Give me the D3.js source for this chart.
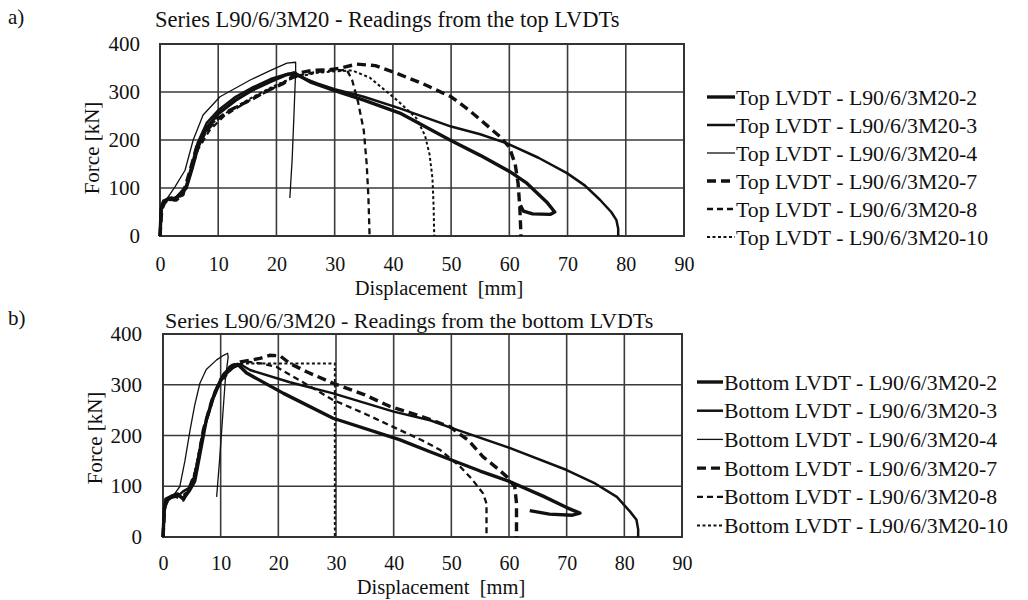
<!DOCTYPE html>
<html><head><meta charset="utf-8">
<script src="https://cdn.jsdelivr.net/npm/d3@7"></script>
<style>
body{margin:0;background:#fff;}
text{font-family:"Liberation Serif","Times New Roman",serif;fill:#111;}
</style></head>
<body><svg id="c" width="1028" height="600"></svg>
<script>
// ---------- data ----------
const xTicks = [0,10,20,30,40,50,60,70,80,90];
const yTicks = [0,100,200,300,400];
const seriesIds = ["2","3","4","7","8","10"];

// Top LVDTs  [displacement mm, force kN]
const top2 = [[0,0],[0.2,55],[0.6,70],[1.5,78],[2.5,75],[3.5,88],[4.5,100],[5.5,140],[6.5,185],[8,225],[10,255],[13,283],[16,305],[19,322],[21.5,335],[23,340],[26,320],[30,303],[35,283],[41.2,256],[49.8,200],[55,168],[60.1,134],[63,110],[66.4,71],[67.8,50],[67,45],[64,46],[62.4,52],[61.9,64]];
const top3 = [[0,0],[0.2,60],[0.7,72],[1.5,80],[2.5,78],[3.5,90],[4.5,105],[5.5,150],[6.5,195],[8,235],[10,262],[13,290],[16,310],[19,327],[22,338],[24,332],[27,318],[30,306],[35,290],[41.2,266],[50,228],[55,212],[59.6,193],[65,163],[69.9,131],[73,105],[75.6,75],[77.5,50],[78.4,33],[78.7,15],[78.7,0]];
const top4 = [[0,0],[0.2,65],[0.5,75],[1.2,78],[2.6,103],[4.3,137],[5.7,200],[7.4,252],[10.3,290],[15.5,325],[19,345],[21.8,360],[23.3,362],[23.3,345],[23,250],[22.7,160],[22.3,79]];
const top7 = [[0,0],[0.3,55],[0.8,70],[1.8,80],[2.8,75],[4,89],[5,130],[6.3,186],[8,220],[9.7,242],[12,262],[15.5,283],[18,300],[21.2,318],[23.5,339],[26,345],[29,346],[31,350],[33.8,358],[37,355],[40,342],[45,318],[50,290],[53,263],[56,232],[58.4,207],[60,185],[61,150],[61.5,110],[61.8,60],[62,0]];
const top8 = [[0,0],[0.3,60],[1,72],[2,76],[3,80],[4,85],[5,120],[6.5,180],[8.5,220],[11,250],[15,280],[19,305],[22,325],[24,335],[27,342],[30,345],[32.1,346],[33,325],[34,280],[35,220],[35.5,150],[35.8,80],[36,0]];
const top10 = [[0,0],[0.3,60],[1,70],[2,78],[3.5,85],[4.5,100],[5.5,150],[7,200],[9,235],[12,262],[16,290],[20,315],[23,330],[27,340],[30,343],[33,345],[36,330],[38,310],[41,280],[44,246],[45.5,210],[46.3,170],[46.8,120],[47,60],[47.1,0]];

// Bottom LVDTs
const bot2 = [[0,0],[0.2,50],[0.5,75],[1.5,80],[2.5,85],[3.5,75],[4.5,90],[5.5,110],[6.5,170],[7.5,230],[9,285],[10.5,320],[12,338],[13,340],[14.5,323],[20.9,283],[29.5,234],[41,192],[46.3,168],[55,130],[60.2,109],[66,80],[70,58],[72.3,47],[71,43],[67,45],[63.6,52]];
const bot3 = [[0,0],[0.2,55],[0.6,70],[1.5,78],[2.5,80],[3.5,90],[5,100],[6,150],[7,210],[8.5,270],[10,310],[12,333],[13.5,340],[15.1,329],[22,305],[29.5,283],[40,247],[46.3,230],[50,215],[60.2,175],[70,132],[75,105],[78.7,79],[81,50],[82.1,34],[82.4,15],[82.4,0]];
const bot4 = [[0,0],[0.3,60],[1,75],[2,85],[2.9,99],[3.8,150],[4.7,211],[5.5,260],[6.4,303],[7.5,330],[9.3,349],[10.5,358],[11.2,362],[11.3,355],[10.8,309],[10.3,230],[9.8,150],[9.3,79]];
const bot7 = [[0,0],[0.3,60],[1,78],[2,82],[3.5,73],[4.5,95],[5.8,132],[7,211],[8.5,270],[10,310],[11.6,335],[13.4,345],[15,348],[16.8,352],[18.5,358],[20.3,357],[22,342],[25,325],[29.5,303],[35,280],[39.4,257],[45,237],[49.8,217],[53,190],[55.5,158],[58,135],[59.6,119],[61,99],[61.3,66],[61.3,30],[61.3,0]];
const bot8 = [[0,0],[0.3,58],[1,75],[2,80],[3.5,78],[4.5,92],[5.5,125],[6.8,200],[8.3,262],[10,305],[11.8,330],[13,340],[15,345],[17,342],[19.7,335],[25,300],[29.5,270],[35,243],[39.9,217],[45,190],[48,172],[51.5,139],[53.5,115],[55.5,86],[56.1,66],[56.1,30],[56.1,0]];
const bot10 = [[0,0],[0.3,62],[1,76],[2,80],[3.5,82],[4.8,98],[6,150],[7.2,215],[8.8,275],[10.3,312],[12,335],[13,342],[20,342],[29.8,342],[29.8,200],[29.8,0]];

const topSeries = [top2, top3, top4, top7, top8, top10];
const botSeries = [bot2, bot3, bot4, bot7, bot8, bot10];

// ---------- styles ----------
const styles = [
  {w:3.4, dash:null},
  {w:2.5, dash:null},
  {w:1.3, dash:null},
  {w:3.4, dash:"9,5"},
  {w:2.3, dash:"6,4"},
  {w:2.0, dash:"3,2.5"}
];

const svg = d3.select("#c");
svg.append("rect").attr("width",1028).attr("height",600).attr("fill","#fff");

function drawChart(o){
  const x = d3.scaleLinear().domain([0,90]).range([o.left, o.right]);
  const y = d3.scaleLinear().domain([0,400]).range([o.bottom, o.top]);
  const g = svg.append("g");

  // grid
  g.append("g").selectAll("line").data(xTicks).join("line")
    .attr("x1",d=>x(d)).attr("x2",d=>x(d)).attr("y1",o.top).attr("y2",o.bottom)
    .attr("stroke","#3a3a3a").attr("stroke-width",1.6);
  g.append("g").selectAll("line").data(yTicks).join("line")
    .attr("y1",d=>y(d)).attr("y2",d=>y(d)).attr("x1",o.left).attr("x2",o.right)
    .attr("stroke","#3a3a3a").attr("stroke-width",1.6);
  g.append("rect").attr("x",o.left).attr("y",o.top).attr("width",o.right-o.left).attr("height",o.bottom-o.top)
    .attr("fill","none").attr("stroke","#333").attr("stroke-width",2);

  // axes labels via d3 axes
  const ax = g.append("g").attr("transform",`translate(0,${o.bottom+o.xTickOff})`)
    .call(d3.axisBottom(x).tickValues(xTicks).tickSize(0).tickPadding(0));
  ax.select(".domain").remove();
  ax.selectAll("text").attr("font-size",20).attr("dy","0.3em").attr("font-family","Liberation Serif").attr("fill","#111");
  const ay = g.append("g").attr("transform",`translate(${o.left-o.yTickOff},0)`)
    .call(d3.axisLeft(y).tickValues(yTicks).tickSize(0).tickPadding(0));
  ay.select(".domain").remove();
  ay.selectAll("text").attr("font-size",21).attr("font-family","Liberation Serif").attr("fill","#111");

  // curves
  const line = d3.line().x(d=>x(d[0])).y(d=>y(d[1])).curve(d3.curveLinear);
  o.series.forEach((s,i)=>{
    g.append("path").attr("d",line(s)).attr("fill","none").attr("stroke","#111")
      .attr("stroke-width",styles[i].w).attr("stroke-dasharray",styles[i].dash)
      .attr("stroke-linejoin","round");
  });

  // titles
  g.append("text").attr("x",8).attr("y",o.letterY).attr("font-size",21).text(o.letter);
  g.append("text").attr("x",o.titleX).attr("y",o.titleY).attr("font-size",o.titleSize).text(o.title);
  g.append("text").attr("x",o.xLabelX).attr("y",o.xLabelY).attr("text-anchor","middle").attr("font-size",20.5)
    .attr("xml:space","preserve").text("Displacement  [mm]");
  g.append("text").attr("transform",`translate(${o.yLabelX},${o.yLabelY}) rotate(-90)`)
    .attr("text-anchor","middle").attr("dy","0.35em").attr("font-size",21).text("Force [kN]");

  // legend
  const lg = g.append("g");
  seriesIds.forEach((id,i)=>{
    const ly = o.legY0 + i*o.legDy;
    lg.append("line").attr("x1",o.legX).attr("x2",o.legX+o.legLen).attr("y1",ly).attr("y2",ly)
      .attr("stroke","#111").attr("stroke-width",styles[i].w).attr("stroke-dasharray",styles[i].dash);
    lg.append("text").attr("x",o.legX+o.legLen+1).attr("y",ly).attr("dy","0.35em").attr("font-size",21.8)
      .text(`${o.legPrefix} LVDT - L90/6/3M20-${id}`);
  });
}

drawChart({left:160,right:684,top:44,bottom:236,xTickOff:29,yTickOff:20,
  series:topSeries, letter:"a)", letterY:24, title:"Series L90/6/3M20 - Readings from the top LVDTs",
  titleX:155, titleY:27, titleSize:22.5, xLabelX:439, xLabelY:295, yLabelX:92, yLabelY:148,
  legX:707, legLen:28, legY0:97, legDy:28, legPrefix:"Top"});

drawChart({left:163,right:682,top:334,bottom:537,xTickOff:27,yTickOff:21,
  series:botSeries, letter:"b)", letterY:325, title:"Series L90/6/3M20 - Readings from the bottom LVDTs",
  titleX:165, titleY:328, titleSize:22, xLabelX:441, xLabelY:594, yLabelX:95, yLabelY:438,
  legX:697, legLen:26, legY0:382, legDy:28.7, legPrefix:"Bottom"});
</script></body></html>
